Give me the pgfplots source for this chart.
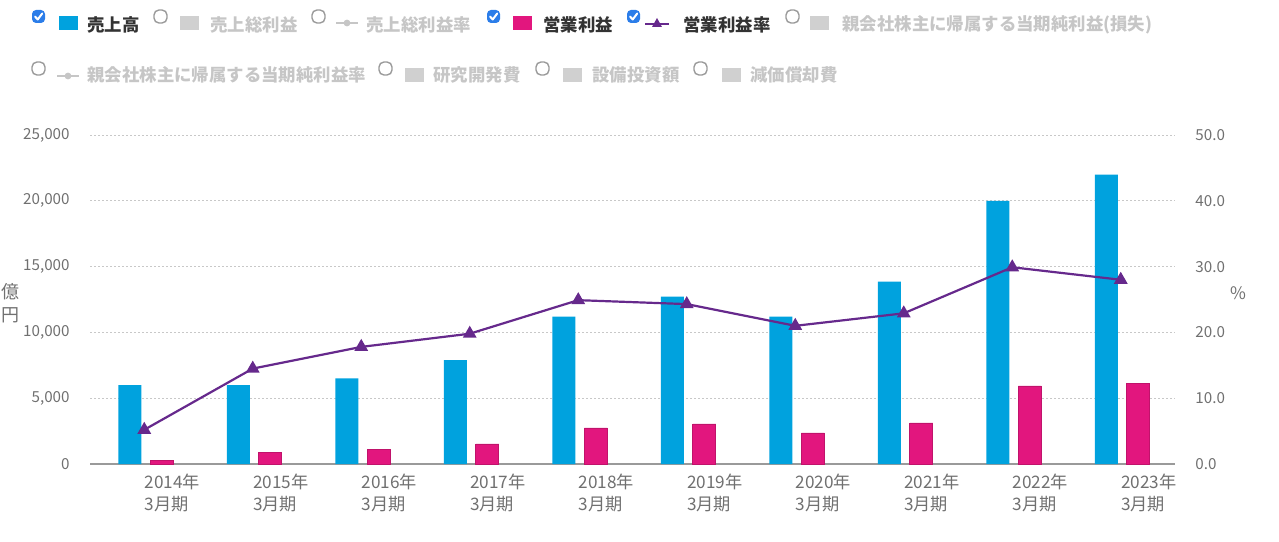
\documentclass[border=0pt]{standalone}
\usepackage{pgfplots}
\pgfplotsset{compat=1.18}
\usepackage{fontspec}
\setmainfont{Noto Sans CJK JP}

\definecolor{cblue}{HTML}{00A2DE}
\definecolor{cpink}{HTML}{E2167E}
\definecolor{cpurple}{HTML}{66298C}
\definecolor{ckblue}{HTML}{2B7DE9}
\definecolor{tgray}{HTML}{707070}
\definecolor{lgray}{HTML}{C6C6C6}
\definecolor{sgray}{HTML}{D0D0D0}
\definecolor{gridgray}{HTML}{C8C8C8}
\definecolor{basegray}{HTML}{9A9A9A}

% legend helpers, in pixel units (y down)
\newcommand\chkon[2]{%
  \fill[ckblue,rounded corners=2pt] (#1,#2) rectangle ++(13,13);
  \draw[white,line width=1pt,line cap=round,line join=round]
    (#1+3,#2+6.5) -- (#1+5.7,#2+9.5) -- (#1+10.2,#2+3.5);}
\newcommand\chkoff[2]{%
  \draw[basegray,line width=0.7pt,rounded corners=2.5pt] (#1,#2) rectangle ++(13,13);}
\newcommand\sq[3]{\fill[#3] (#1,#2) rectangle ++(19,14);}
\newcommand\linedot[2]{%
  \draw[lgray,line width=1.2pt] (#1,#2) -- ++(22,0);
  \fill[lgray] (#1+11,#2) circle (3.4);}
\newcommand\lab[4]{\node[anchor=west,inner sep=0pt,text=#3,font=\fontsize{8.7}{10}\selectfont\bfseries] at (#1,#2) {#4};}

\begin{document}
\begin{tikzpicture}
\useasboundingbox (0,0) rectangle (639.5pt,270.5pt);

\begin{axis}[
    at={(45pt,38.5pt)}, anchor=south west,
    scale only axis, width=542.5pt, height=164.5pt,
    xmin=-0.5, xmax=9.5, ymin=0, ymax=25000,
    axis x line*=bottom, axis y line*=left,
    x axis line style={draw=basegray, line width=0.7pt, -},
    y axis line style={draw=none},
    major tick length=0pt,
    xtick={0,...,9},
    xticklabels={{2014年\\3月期},{2015年\\3月期},{2016年\\3月期},{2017年\\3月期},{2018年\\3月期},
                 {2019年\\3月期},{2020年\\3月期},{2021年\\3月期},{2022年\\3月期},{2023年\\3月期}},
    xticklabel style={anchor=north west, align=left, inner sep=0pt, yshift=-5pt,
                      font=\fontsize{8.6}{11}\selectfont, text=tgray},
    ytick={0,5000,...,25000},
    scaled y ticks=false,
    yticklabel={\pgfmathprintnumber[assume math mode=true,1000 sep={,}]{\tick}},
    yticklabel style={anchor=east, inner sep=0pt, xshift=-10pt,
                      font=\fontsize{7.6}{9}\selectfont, text=tgray},
    ymajorgrids, grid style={gridgray, line width=0.5pt, dash pattern=on 1.2pt off 0.8pt},
    clip=false,
]
% 売上高
\addplot[ybar, bar width=11.5pt, bar shift=-7.25pt, fill=cblue, draw=none] coordinates {
(0,6000) (1,6000) (2,6510) (3,7900) (4,11190)
(5,12710) (6,11190) (7,13850) (8,19990) (9,21980)
};
% 営業利益
\addplot[ybar, bar width=11.5pt, bar shift=8.75pt, fill=cpink, draw=cpink!85!black, line width=0.3pt] coordinates {
(0,280) (1,890) (2,1110) (3,1520) (4,2740)
(5,3040) (6,2360) (7,3120) (8,5930) (9,6140)
};
\end{axis}

\begin{axis}[
    at={(45pt,38.5pt)}, anchor=south west,
    scale only axis, width=542.5pt, height=164.5pt,
    xmin=-0.5, xmax=9.5, ymin=0, ymax=50,
    axis x line=none, axis y line*=right,
    y axis line style={draw=none},
    major tick length=0pt,
    ytick={0,10,...,50},
    yticklabel={\pgfmathprintnumber[assume math mode=true,fixed,fixed zerofill,precision=1]{\tick}},
    yticklabel style={anchor=west, inner sep=0pt, xshift=10pt,
                      font=\fontsize{7.6}{9}\selectfont, text=tgray},
    clip=false,
]
% 営業利益率
\addplot[cpurple, line width=1.1pt, mark=triangle*, mark size=2.9pt, mark options={solid}] coordinates {
(0,5.2) (1,14.5) (2,17.8) (3,19.8) (4,24.9)
(5,24.3) (6,21.0) (7,22.9) (8,29.9) (9,28.0)
};
\end{axis}

% axis titles
\node[align=center, text=tgray, font=\fontsize{9}{11.5}\selectfont, inner sep=0pt] at (5.5pt,119pt) {億\\円};
\node[text=tgray, font=\fontsize{8.6}{10}\selectfont, inner sep=0pt] at (619pt,124pt) {\%};

% legend (checkbox list)
\begin{scope}[x=0.5pt, y=-0.5pt, yshift=270.5pt]
  % row 1
  \chkon{32}{10}  \sq{59}{16}{cblue}  \lab{87}{25}{black!80}{売上高}
  \chkoff{154}{10} \sq{180}{16}{sgray} \lab{210}{25}{lgray}{売上総利益}
  \chkoff{312}{10} \linedot{336}{23}   \lab{366}{25}{lgray}{売上総利益率}
  \chkon{487}{10} \sq{513}{16}{cpink} \lab{543}{25}{black!80}{営業利益}
  \chkon{627}{10}
  \draw[cpurple,line width=1.2pt] (645,24) -- ++(24,0);
  \fill[cpurple] (657,18) -- (662,27) -- (652,27) -- cycle;
  \lab{683}{25}{black!80}{営業利益率}
  \chkoff{786}{10} \sq{810}{16}{sgray} \lab{842}{25}{lgray}{親会社株主に帰属する当期純利益(損失)}
  % row 2
  \chkoff{32}{62}  \linedot{57}{76}    \lab{87}{75}{lgray}{親会社株主に帰属する当期純利益率}
  \chkoff{379}{62} \sq{405}{68}{sgray} \lab{433}{75}{lgray}{研究開発費}
  \chkoff{536}{62} \sq{563}{68}{sgray} \lab{592}{75}{lgray}{設備投資額}
  \chkoff{694}{62} \sq{722}{68}{sgray} \lab{750}{75}{lgray}{減価償却費}
\end{scope}
\end{tikzpicture}
\end{document}
